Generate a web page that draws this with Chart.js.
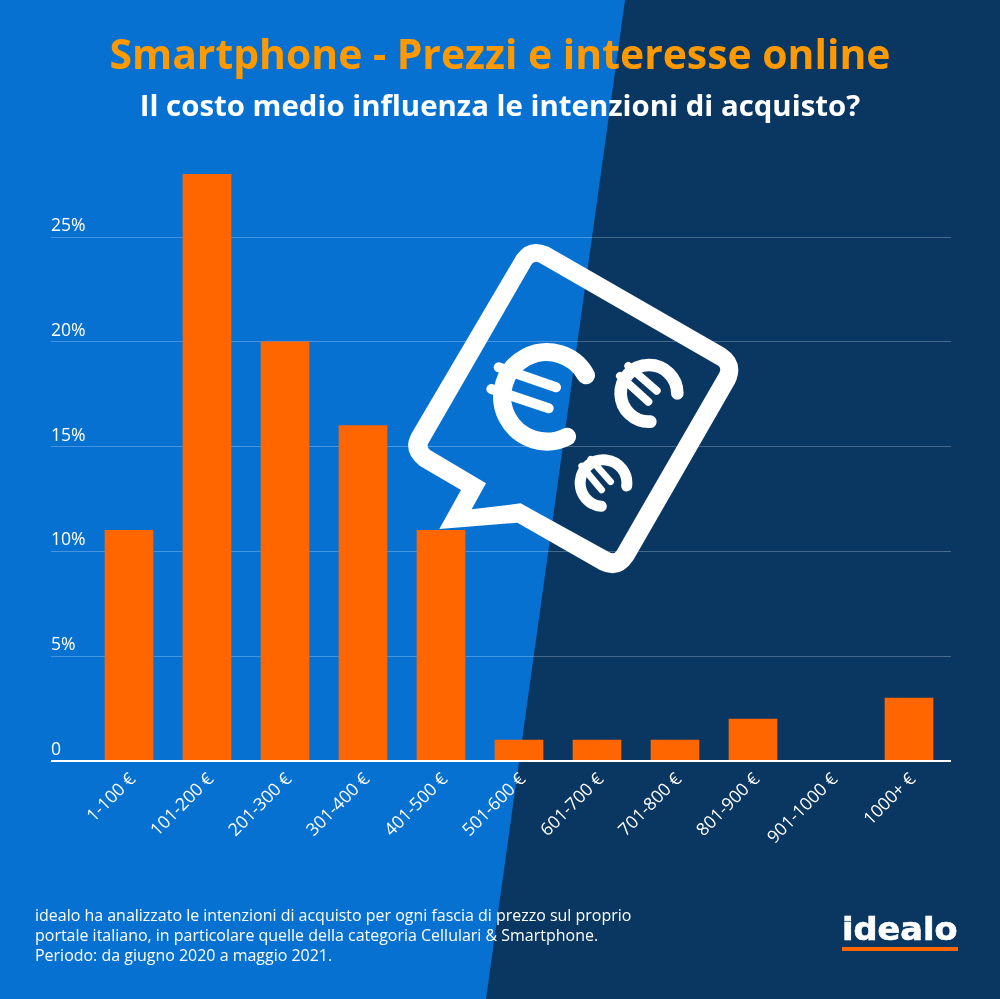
<!DOCTYPE html>
<html lang="it">
<head>
<meta charset="utf-8">
<title>Smartphone - Prezzi e interesse online</title>
<script src="https://cdn.jsdelivr.net/npm/chart.js@4"></script>
<style>
  html, body { margin: 0; padding: 0; }
  body { width: 1000px; height: 999px; overflow: hidden; position: relative; background: #0771d2; font-family: "Open Sans", sans-serif; color: #fff; }
  #dark { position: absolute; inset: 0; background: #0a3762; clip-path: polygon(625px 0, 1000px 0, 1000px 999px, 486px 999px); }
  #icon { position: absolute; left: 400px; top: 230px; width: 350px; height: 350px; }
  #chart { position: absolute; left: 0; top: 0; }
  h1, h2 { position: absolute; left: 0; width: 1000px; margin: 0; text-align: center; font-weight: 700; }
  h1 { top: 25px; font-size: 40.9px; line-height: 56px; color: #ff9900; }
  h2 { top: 85px; font-size: 29.4px; line-height: 40px; }
  #note { position: absolute; left: 35px; top: 905px; font-size: 15.98px; line-height: 20px; white-space: nowrap; }
  #logo { position: absolute; left: 842px; top: 908px; font-family: "DejaVu Sans", sans-serif; font-weight: 700; font-size: 32px; line-height: 42px; transform: scaleX(1.05); transform-origin: left top; -webkit-text-stroke: 0.7px #fff; }
  #rule { position: absolute; left: 842px; top: 947px; width: 116px; height: 4px; background: #ff6600; }
</style>
</head>
<body>
<div id="dark"></div>
<svg id="icon" viewBox="0 0 1050 1050">
  <path fill="#fff" fill-rule="evenodd" d="M350,75 Q385,25 445,50 L975,355 Q1035,395 1005,460 L700,990 Q660,1050 600,1020 L352,878 L118,897 L183,780 L60,708 Q5,665 35,610 Z
    M395,103 Q403,90 418,98 L955,407 Q965,415 958,428 L650,962 Q642,975 628,967 L362,820 L215,838 L258,760 L90,660 Q78,650 86,638 Z"/>
  <g fill="none" stroke="#fff" stroke-linecap="round">
    <path stroke-width="54" d="M558,436 A134,134 0 1 0 501,620"/>
    <g stroke-width="30">
      <path d="M296,412 L468,472"/>
      <path d="M274,477 L446,535"/>
    </g>
    <path stroke-width="38" d="M832,490 A85,85 0 1 0 751,575"/>
    <g stroke-width="24">
      <path d="M685,408 L770,482"/>
      <path d="M660,438 L745,515"/>
    </g>
    <path stroke-width="33" d="M680,768 A70,70 0 1 0 604,829"/>
    <g stroke-width="20">
      <path d="M572,688 L632,755"/>
      <path d="M545,708 L605,780"/>
    </g>
  </g>
</svg>
<canvas id="chart" width="1000" height="999"></canvas>
<h1>Smartphone - Prezzi e interesse online</h1>
<h2>Il costo medio influenza le intenzioni di acquisto?</h2>
<div id="note">idealo ha analizzato le intenzioni di acquisto per ogni fascia di prezzo sul proprio<br>portale italiano, in particolare quelle della categoria Cellulari &amp; Smartphone.<br>Periodo: da giugno 2020 a maggio 2021.</div>
<div id="logo">idealo</div>
<div id="rule"></div>
<script>
const categories = ['1-100 €', '101-200 €', '201-300 €', '301-400 €', '401-500 €', '501-600 €', '601-700 €', '701-800 €', '801-900 €', '901-1000 €', '1000+ €'];
const shares = [11, 28, 20, 16, 11, 1, 1, 1, 2, 0, 3];
const yTicks = [0, 5, 10, 15, 20, 25];

// grid lines run past the bar area on both sides, so they are drawn here
const axisLines = {
    id: 'axisLines',
    beforeDatasetsDraw(chart) {
        const ctx = chart.ctx;
        const y = chart.scales.y;
        ctx.save();
        ctx.lineWidth = 1;
        ctx.strokeStyle = 'rgba(255, 255, 255, 0.25)';
        yTicks.slice(1).forEach(v => {
            const py = Math.round(y.getPixelForValue(v) - 0.3) + 0.5;
            ctx.beginPath();
            ctx.moveTo(51, py);
            ctx.lineTo(951, py);
            ctx.stroke();
        });
        ctx.restore();
    },
    afterDatasetsDraw(chart) {
        const ctx = chart.ctx;
        const py = chart.scales.y.getPixelForValue(0);
        ctx.save();
        ctx.fillStyle = '#fff';
        ctx.fillRect(51, py - 1, 900, 2);
        ctx.restore();
    }
};

new Chart(document.getElementById('chart'), {
    type: 'bar',
    data: {
        labels: categories,
        datasets: [{
            data: shares,
            backgroundColor: '#ff6600',
            barThickness: 48
        }]
    },
    plugins: [axisLines],
    options: {
        responsive: false,
        animation: false,
        layout: { padding: { left: 90, right: 52, top: 174, bottom: 0 } },
        scales: {
            x: {
                afterFit: scale => { scale.height = 238; },
                grid: { display: false },
                border: { display: false },
                ticks: {
                    color: '#fff',
                    font: { family: 'Open Sans', size: 17.6 },
                    minRotation: 45,
                    maxRotation: 45,
                    autoSkip: false,
                    labelOffset: 4,
                    padding: 0
                }
            },
            y: {
                min: 0,
                max: 28,
                afterBuildTicks: scale => { scale.ticks = yTicks.map(value => ({ value })); },
                afterFit: scale => { scale.width = 0; },
                grid: { display: false },
                border: { display: false },
                ticks: {
                    color: '#fff',
                    font: { family: 'Open Sans', size: 17.6 },
                    mirror: true,
                    padding: -39,
                    labelOffset: -11,
                    callback: v => v === 0 ? '0' : v + '%'
                }
            }
        },
        plugins: {
            legend: { display: false },
            tooltip: { enabled: false }
        }
    }
});
</script>
</body>
</html>
